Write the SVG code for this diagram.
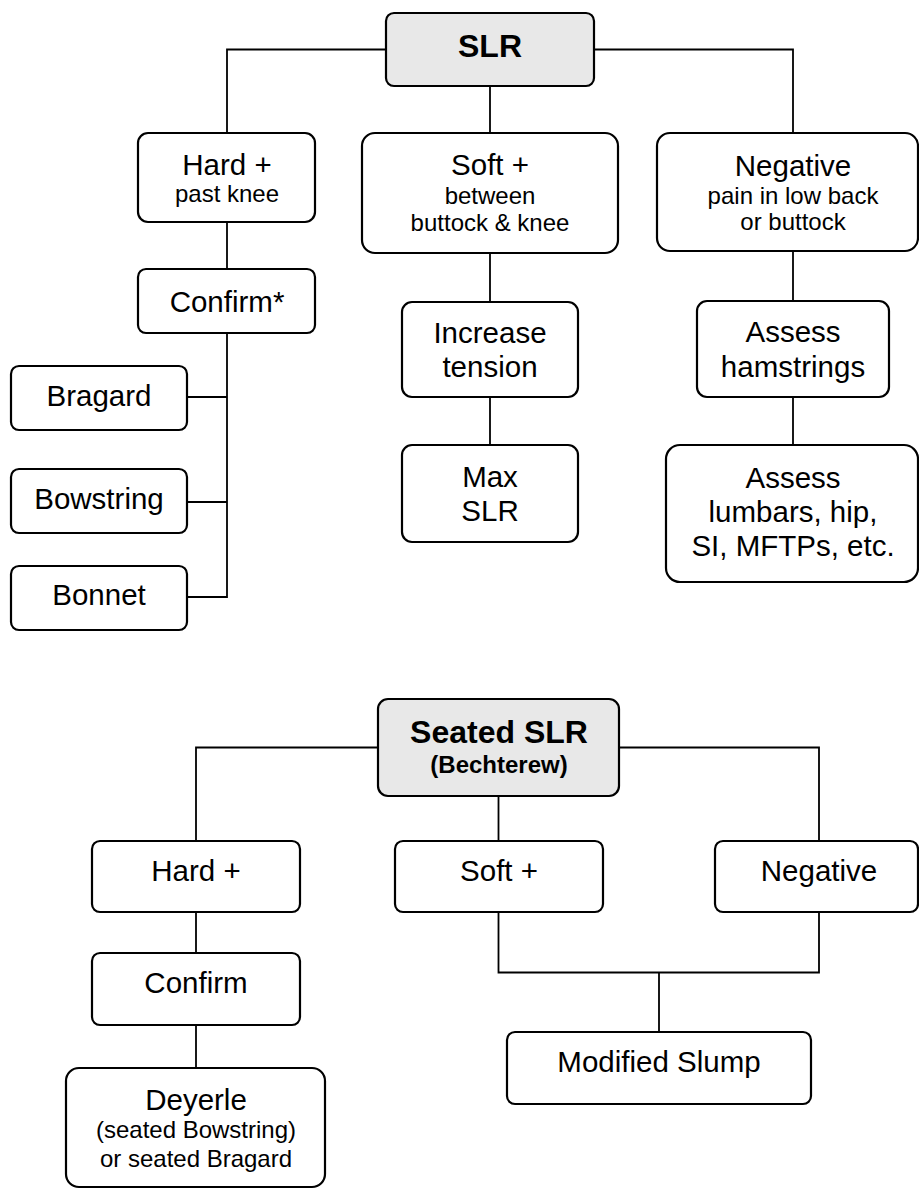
<svg xmlns="http://www.w3.org/2000/svg" width="919" height="1189" viewBox="0 0 919 1189">
<style>
.box{fill:#ffffff;stroke:#000;stroke-width:2.2}
.root{fill:#e8e8e8;stroke:#000;stroke-width:2.2}
.t{font-family:"Liberation Sans",Arial,sans-serif;font-size:29.5px;text-anchor:middle;fill:#000}
.s{font-family:"Liberation Sans",Arial,sans-serif;font-size:24px;text-anchor:middle;fill:#000}
.b{font-family:"Liberation Sans",Arial,sans-serif;font-weight:bold;font-size:32px;text-anchor:middle;fill:#000}
.bs{font-family:"Liberation Sans",Arial,sans-serif;font-weight:bold;font-size:24px;text-anchor:middle;fill:#000}
#connectors path{fill:none;stroke:#000;stroke-width:1.8}
</style>
<rect width="919" height="1189" fill="#ffffff"/>
<g id="connectors">
<path d="M386,49.5 H227 V133"/>
<path d="M594,49.5 H793 V133"/>
<path d="M490,86 V133"/>
<path d="M227,222 V269"/>
<path d="M227,333 V597 H187"/>
<path d="M227,397 H187"/>
<path d="M227,502 H187"/>
<path d="M490,253 V302"/>
<path d="M490,397 V445"/>
<path d="M793,251 V301"/>
<path d="M793,397 V445"/>
<path d="M378,747.5 H196 V841"/>
<path d="M619,747.5 H819 V841"/>
<path d="M498.5,796 V841"/>
<path d="M196,912 V953"/>
<path d="M196,1025 V1068"/>
<path d="M498.5,912 V972.5 H819 V912"/>
<path d="M659,972.5 V1032"/>
</g>
<g id="slr">
<rect class="root" x="386" y="13" width="208" height="73" rx="8"/>
<text class="b" x="490" y="57">SLR</text>
</g>
<g id="hard1">
<rect class="box" x="138" y="133" width="177" height="89" rx="10"/>
<text class="t" x="227" y="175">Hard +</text>
<text class="s" x="227" y="202">past knee</text>
</g>
<g id="soft1">
<rect class="box" x="362" y="133" width="256" height="120" rx="13"/>
<text class="t" x="490" y="175">Soft +</text>
<text class="s" x="490" y="204">between</text>
<text class="s" x="490" y="231">buttock &amp; knee</text>
</g>
<g id="neg1">
<rect class="box" x="657" y="133" width="261" height="118" rx="13"/>
<text class="t" x="793" y="176">Negative</text>
<text class="s" x="793" y="204">pain in low back</text>
<text class="s" x="793" y="230">or buttock</text>
</g>
<g id="confirm1">
<rect class="box" x="138" y="269" width="177" height="64" rx="8"/>
<text class="t" x="227" y="312">Confirm*</text>
</g>
<g id="bragard">
<rect class="box" x="11" y="366" width="176" height="64" rx="8"/>
<text class="t" x="99" y="406">Bragard</text>
</g>
<g id="bowstring">
<rect class="box" x="11" y="469" width="176" height="64" rx="8"/>
<text class="t" x="99" y="509">Bowstring</text>
</g>
<g id="bonnet">
<rect class="box" x="11" y="566" width="176" height="64" rx="8"/>
<text class="t" x="99" y="605">Bonnet</text>
</g>
<g id="increase">
<rect class="box" x="402" y="302" width="176" height="95" rx="10"/>
<text class="t" x="490" y="343">Increase</text>
<text class="t" x="490" y="377">tension</text>
</g>
<g id="maxslr">
<rect class="box" x="402" y="445" width="176" height="97" rx="10"/>
<text class="t" x="490" y="487">Max</text>
<text class="t" x="490" y="521">SLR</text>
</g>
<g id="hamstrings">
<rect class="box" x="697" y="301" width="192" height="96" rx="10"/>
<text class="t" x="793" y="342">Assess</text>
<text class="t" x="793" y="377">hamstrings</text>
</g>
<g id="lumbars">
<rect class="box" x="666" y="445" width="252" height="137" rx="14"/>
<text class="t" x="793" y="488">Assess</text>
<text class="t" x="793" y="522">lumbars, hip,</text>
<text class="t" x="793" y="556">SI, MFTPs, etc.</text>
</g>
<g id="seated">
<rect class="root" x="378" y="699" width="241" height="97" rx="10"/>
<text class="b" x="499" y="743">Seated SLR</text>
<text class="bs" x="499" y="773">(Bechterew)</text>
</g>
<g id="hard2">
<rect class="box" x="92" y="841" width="208" height="71" rx="8"/>
<text class="t" x="196" y="881">Hard +</text>
</g>
<g id="soft2">
<rect class="box" x="395" y="841" width="208" height="71" rx="8"/>
<text class="t" x="499" y="881">Soft +</text>
</g>
<g id="neg2">
<rect class="box" x="715" y="841" width="203" height="71" rx="8"/>
<text class="t" x="819" y="881">Negative</text>
</g>
<g id="confirm2">
<rect class="box" x="92" y="953" width="208" height="72" rx="8"/>
<text class="t" x="196" y="993">Confirm</text>
</g>
<g id="slump">
<rect class="box" x="507" y="1032" width="304" height="72" rx="8"/>
<text class="t" x="659" y="1072">Modified Slump</text>
</g>
<g id="deyerle">
<rect class="box" x="66" y="1068" width="259" height="119" rx="13"/>
<text class="t" x="196" y="1110">Deyerle</text>
<text class="s" x="196" y="1138">(seated Bowstring)</text>
<text class="s" x="196" y="1167">or seated Bragard</text>
</g>
</svg>
